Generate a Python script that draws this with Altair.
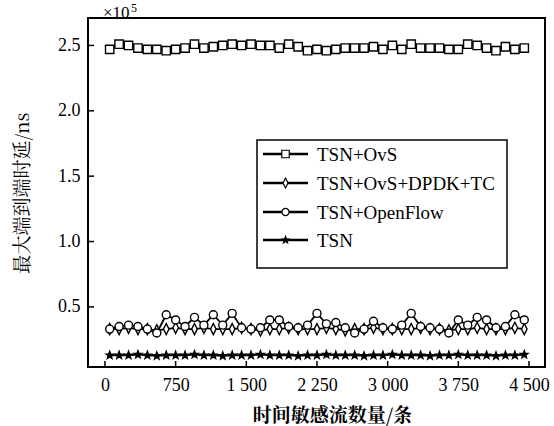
import math
import altair as alt
import pandas as pd

# Number of time-sensitive flows (x) and maximum end-to-end delay in units of 1e5 ns (y)
flows = [50, 150, 250, 350, 450, 550, 650, 750, 850, 950,
         1050, 1150, 1250, 1350, 1450, 1550, 1650, 1750, 1850, 1950,
         2050, 2150, 2250, 2350, 2450, 2550, 2650, 2750, 2850, 2950,
         3050, 3150, 3250, 3350, 3450, 3550, 3650, 3750, 3850, 3950,
         4050, 4150, 4250, 4350, 4450]

tsn_ovs = [2.47, 2.51, 2.50, 2.48, 2.47, 2.47, 2.46, 2.47, 2.48, 2.51,
           2.48, 2.49, 2.50, 2.51, 2.50, 2.51, 2.50, 2.50, 2.48, 2.51,
           2.49, 2.46, 2.47, 2.46, 2.47, 2.48, 2.48, 2.48, 2.49, 2.47,
           2.50, 2.47, 2.51, 2.48, 2.48, 2.48, 2.47, 2.47, 2.51, 2.50,
           2.48, 2.46, 2.49, 2.47, 2.48]

tsn_ovs_dpdk_tc = [0.33, 0.33, 0.34, 0.33, 0.33, 0.32, 0.33, 0.34, 0.33, 0.33,
                   0.34, 0.33, 0.33, 0.33, 0.34, 0.33, 0.32, 0.33, 0.33, 0.34,
                   0.33, 0.33, 0.33, 0.34, 0.33, 0.32, 0.33, 0.33, 0.34, 0.33,
                   0.33, 0.33, 0.33, 0.34, 0.33, 0.33, 0.32, 0.33, 0.33, 0.34,
                   0.33, 0.33, 0.33, 0.34, 0.33]

tsn_openflow = [0.33, 0.35, 0.36, 0.35, 0.33, 0.30, 0.44, 0.40, 0.35, 0.42,
                0.36, 0.44, 0.36, 0.45, 0.34, 0.33, 0.34, 0.40, 0.40, 0.35,
                0.34, 0.36, 0.45, 0.37, 0.38, 0.34, 0.30, 0.33, 0.39, 0.34,
                0.33, 0.36, 0.45, 0.35, 0.34, 0.33, 0.30, 0.40, 0.36, 0.42,
                0.40, 0.34, 0.35, 0.44, 0.40]

tsn = [0.13, 0.13, 0.13, 0.135, 0.13, 0.125, 0.13, 0.13, 0.13, 0.135,
       0.13, 0.13, 0.125, 0.13, 0.13, 0.13, 0.135, 0.13, 0.13, 0.13,
       0.125, 0.13, 0.13, 0.135, 0.13, 0.13, 0.13, 0.125, 0.13, 0.13,
       0.135, 0.13, 0.13, 0.13, 0.125, 0.13, 0.13, 0.135, 0.13, 0.13,
       0.13, 0.125, 0.13, 0.13, 0.135]

series_names = ["TSN+OvS", "TSN+OvS+DPDK+TC", "TSN+OpenFlow", "TSN"]
series_values = [tsn_ovs, tsn_ovs_dpdk_tc, tsn_openflow, tsn]

x_ticks = [0, 750, 1500, 2250, 3000, 3750, 4500]
y_ticks = [0.5, 1.0, 1.5, 2.0, 2.5]

W, H = 457, 349
SERIF = "Times New Roman, Liberation Serif, DejaVu Serif, serif"
CJK = "Noto Serif CJK SC, Noto Sans CJK SC, serif"


def star_path(inner=0.42):
    pts = []
    for k in range(10):
        r = 1.0 if k % 2 == 0 else inner
        a = -math.pi / 2 + k * math.pi / 5
        pts.append(f"{r * math.cos(a):.3f},{r * math.sin(a):.3f}")
    return "M" + "L".join(pts) + "Z"


TALL_DIAMOND = "M0,-1L0.5,0L0,1L-0.5,0Z"

# marker style per series: (shape, size, fill)
marker_styles = {
    "TSN+OvS": ("square", 70, "white"),
    "TSN+OvS+DPDK+TC": (TALL_DIAMOND, 125, "white"),
    "TSN+OpenFlow": ("circle", 64, "white"),
    "TSN": (star_path(), 60, "black"),
}

rows = []
for name, vals in zip(series_names, series_values):
    for f, v in zip(flows, vals):
        rows.append({"series": name, "flows": f, "delay": v})
df = pd.DataFrame(rows)

x_scale = alt.Scale(domain=[-180, 4670], nice=False, zero=False)
y_scale = alt.Scale(domain=[0.04, 2.71], nice=False, zero=False)

x_axis = alt.Axis(
    values=x_ticks,
    labelExpr="replace(format(datum.value, ','), ',', ' ')",
    title="时间敏感流数量/条",
    ticks=False, domain=False, grid=False,
    labelFont=SERIF, labelFontSize=18, labelColor="black",
    labelPadding=9, labelFlush=False, labelOverlap=False,
    titleFont=CJK, titleFontSize=19, titleFontWeight="bold",
    titleColor="black", titlePadding=12,
    titleX=244, titleAlign="center", titleAnchor="start",
)
y_axis = alt.Axis(
    values=y_ticks, format=".1f",
    title="最大端到端时延/ns",
    ticks=False, domain=False, grid=False,
    labelFont=SERIF, labelFontSize=18, labelColor="black",
    labelPadding=8, labelFlush=False, labelOverlap=False,
    titleFont=CJK, titleFontSize=19, titleFontWeight="normal",
    titleColor="black", titlePadding=25,
)

X = alt.X("flows:Q", scale=x_scale, axis=x_axis)
Y = alt.Y("delay:Q", scale=y_scale, axis=y_axis)

layers = []
for name in series_names:
    shape, size, fill = marker_styles[name]
    sub = alt.Chart(df).transform_filter(alt.datum.series == name)
    layers.append(sub.mark_line(color="black", strokeWidth=1.8).encode(x=X, y=Y))
    layers.append(
        sub.mark_point(shape=shape, size=size, filled=True, fill=fill,
                       stroke="black", strokeWidth=1.4, opacity=1)
        .encode(x=X, y=Y)
    )

# inward tick marks
xt = pd.DataFrame({"flows": x_ticks})
yt = pd.DataFrame({"delay": y_ticks})
layers.append(
    alt.Chart(xt).mark_rule(color="black", strokeWidth=1.5)
    .encode(x=X, y=alt.value(H), y2=alt.value(H - 6))
)
layers.append(
    alt.Chart(yt).mark_rule(color="black", strokeWidth=1.5)
    .encode(y=Y, x=alt.value(0), x2=alt.value(6))
)

one = pd.DataFrame({"k": [0]})

# axis multiplier
layers.append(
    alt.Chart(one).mark_text(text="×10", font=SERIF, fontSize=17, align="left",
                             baseline="middle", color="black")
    .encode(x=alt.value(15), y=alt.value(-5))
)
layers.append(
    alt.Chart(one).mark_text(text="5", font=SERIF, fontSize=12, align="left",
                             baseline="middle", color="black")
    .encode(x=alt.value(43), y=alt.value(-10))
)

# legend box
LX0, LX1, LY0, LY1 = 169, 419, 122, 250
layers.append(
    alt.Chart(one).mark_rect(fill="white", stroke="black", strokeWidth=1.5)
    .encode(x=alt.value(LX0), x2=alt.value(LX1), y=alt.value(LY0), y2=alt.value(LY1))
)
row_y = [136, 165, 194, 222]
for name, ry in zip(series_names, row_y):
    shape, size, fill = marker_styles[name]
    layers.append(
        alt.Chart(one).mark_rule(color="black", strokeWidth=2.6)
        .encode(x=alt.value(175), x2=alt.value(220), y=alt.value(ry))
    )
    layers.append(
        alt.Chart(one).mark_point(shape=shape, size=size * 0.8, filled=True, fill=fill,
                                  stroke="black", strokeWidth=1.2, opacity=1)
        .encode(x=alt.value(197.5), y=alt.value(ry))
    )
    layers.append(
        alt.Chart(one).mark_text(text=name, font=SERIF, fontSize=19, align="left",
                                 baseline="middle", color="black")
        .encode(x=alt.value(229), y=alt.value(ry + 1))
    )

chart = (
    alt.layer(*layers)
    .properties(
        width=W, height=H,
        padding={"left": 88, "top": 18, "right": 9, "bottom": 59},
        autosize=alt.AutoSizeParams(type="none"),
        background="white",
    )
    .configure_view(stroke="black", strokeWidth=2)
)

chart.save("out.html", embed_options={"renderer": "svg", "actions": False})
